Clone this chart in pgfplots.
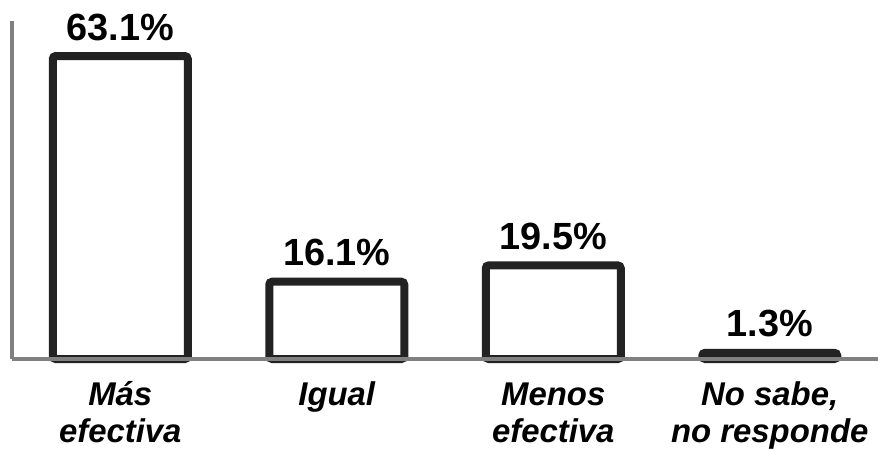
\documentclass[border=0pt]{standalone}
\usepackage{pgfplots}
\pgfplotsset{compat=1.18}
\usepackage{fontspec}
\setmainfont{Liberation Sans}
\definecolor{bardark}{HTML}{222222}
\definecolor{axisgray}{HTML}{808080}
\begin{document}
\begin{tikzpicture}
\useasboundingbox (-12bp,-91bp) rectangle (866bp,359bp);
\begin{axis}[
  at={(0,0)}, anchor=south west,
  scale only axis,
  width=866bp, height=338bp,
  xmin=-0.5, xmax=3.5,
  ymin=0, ymax=70.4,
  axis on top=true,
  axis x line=bottom, axis y line=left,
  axis line style={-, line width=4bp, color=axisgray},
  ytick=\empty,
  xtick={0,1,2,3},
  xticklabels={{M\'as\\efectiva}, {Igual\\\mbox{}}, {Menos\\efectiva}, {No sabe,\\no responde}},
  major tick length=0pt,
  xticklabel style={anchor=base, align=center, yshift=-83bp, inner sep=0pt,
    font=\fontsize{33}{37}\selectfont\bfseries\itshape},
  ybar,
  bar width=135bp,
  nodes near coords={\pgfmathprintnumber[assume math mode=true,fixed,precision=1,fixed zerofill]{\pgfplotspointmeta}\%},
  nodes near coords style={anchor=base, inner sep=0pt, yshift=16bp,
    font=\fontsize{38}{42}\selectfont\bfseries},
  clip=false,
]
\addplot[draw=bardark, fill=white, line width=8bp, rounded corners=3bp]
  coordinates {(0,63.1) (1,16.1) (2,19.5) (3,1.3)};
\end{axis}
\end{tikzpicture}
\end{document}
